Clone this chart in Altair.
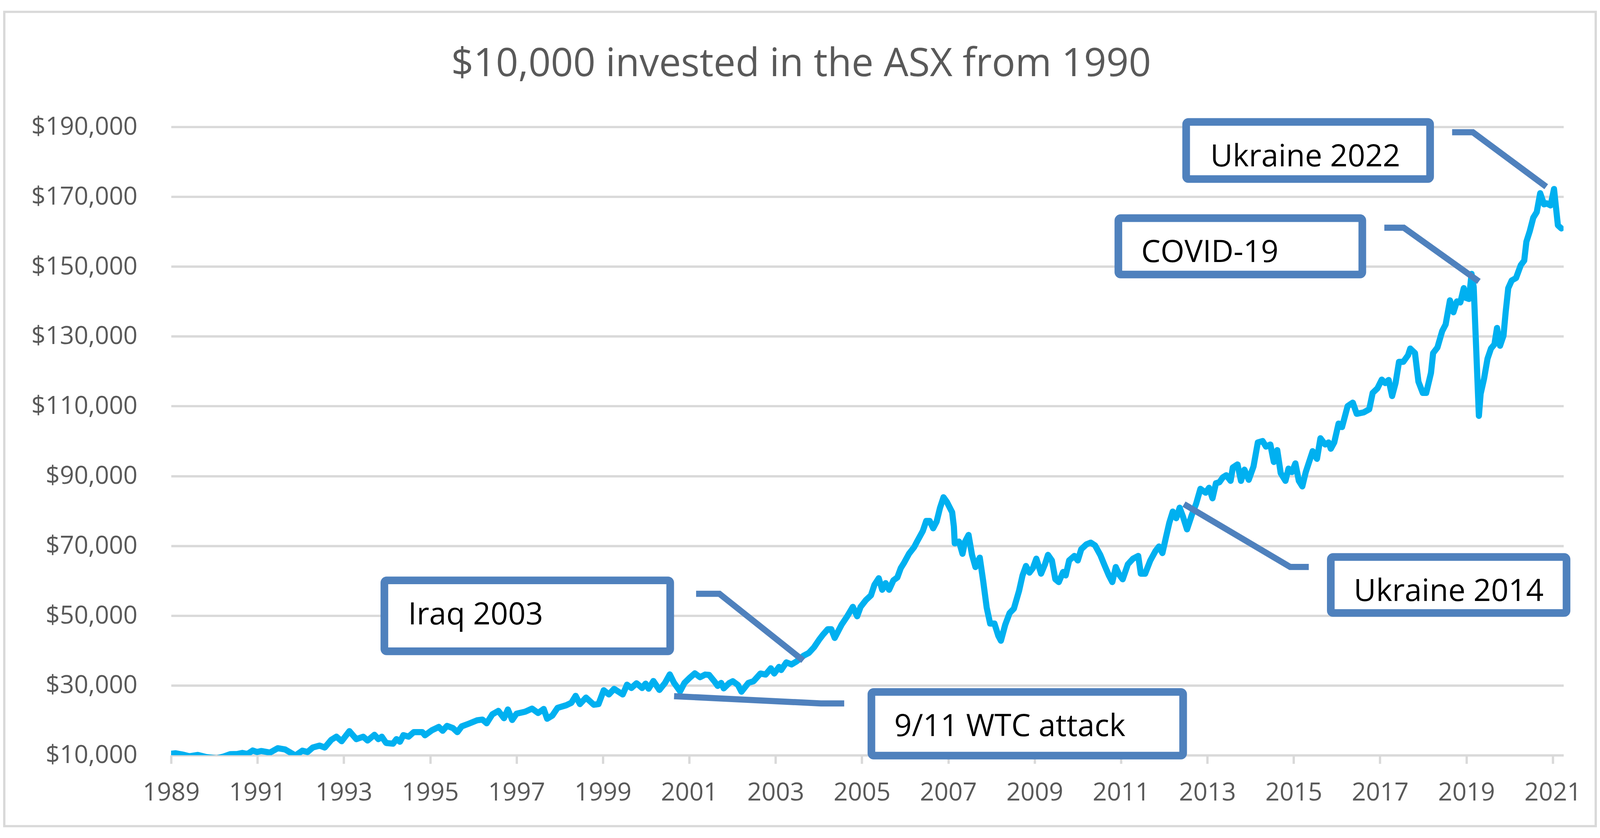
import altair as alt
import pandas as pd

TITLE = "$10,000 invested in the ASX from 1990"

LINE_BLUE = "#00B0F0"
CALLOUT = "#4F81BD"
GRID = "#D9D9D9"
LABEL_GREY = "#595959"
FONT = "Open Sans"

# value of the $10,000 portfolio (decimal year, dollars)
YEARS = [
    1989.00, 1989.10, 1989.26, 1989.42, 1989.62, 1989.82, 1990.06, 1990.21, 1990.37, 1990.53,
    1990.65, 1990.77, 1990.89, 1990.99, 1991.09, 1991.29, 1991.47, 1991.64, 1991.88, 1992.04,
    1992.16, 1992.28, 1992.44, 1992.56, 1992.71, 1992.83, 1992.95, 1993.13, 1993.29, 1993.45,
    1993.55, 1993.71, 1993.80, 1993.88, 1993.98, 1994.14, 1994.22, 1994.30, 1994.38, 1994.50,
    1994.62, 1994.82, 1994.88, 1995.04, 1995.20, 1995.29, 1995.39, 1995.53, 1995.63, 1995.73,
    1995.89, 1996.09, 1996.21, 1996.31, 1996.44, 1996.58, 1996.71, 1996.80, 1996.90, 1997.00,
    1997.20, 1997.36, 1997.50, 1997.63, 1997.71, 1997.83, 1997.95, 1998.15, 1998.27, 1998.37,
    1998.47, 1998.61, 1998.79, 1998.90, 1999.02, 1999.14, 1999.26, 1999.46, 1999.56, 1999.66,
    1999.78, 1999.91, 1999.99, 2000.06, 2000.17, 2000.31, 2000.44, 2000.55, 2000.65, 2000.79,
    2000.89, 2001.01, 2001.13, 2001.25, 2001.37,
    2001.46, 2001.58, 2001.66, 2001.74, 2001.80, 2001.93, 2002.01, 2002.13, 2002.21, 2002.37,
    2002.49, 2002.65, 2002.77, 2002.89, 2002.97, 2003.08, 2003.13, 2003.25, 2003.37, 2003.49,
    2003.65, 2003.77, 2003.89, 2004.01, 2004.09, 2004.21, 2004.29, 2004.37, 2004.45, 2004.53,
    2004.65, 2004.79, 2004.89, 2004.97, 2005.09, 2005.21, 2005.29, 2005.39, 2005.47, 2005.55,
    2005.63, 2005.73, 2005.82, 2005.90, 2005.98, 2006.09, 2006.21, 2006.29, 2006.41, 2006.49,
    2006.57, 2006.65, 2006.73, 2006.81, 2006.89, 2006.97, 2007.09, 2007.13, 2007.15, 2007.25,
    2007.33, 2007.39, 2007.47, 2007.55, 2007.63, 2007.73, 2007.81, 2007.89, 2007.97, 2008.07,
    2008.16, 2008.22, 2008.32, 2008.42, 2008.52, 2008.64, 2008.72, 2008.80, 2008.88, 2008.96,
    2009.04, 2009.15, 2009.24, 2009.31, 2009.40, 2009.48, 2009.56, 2009.66, 2009.72, 2009.80,
    2009.92, 2010.00, 2010.08, 2010.20, 2010.30, 2010.40, 2010.52, 2010.62, 2010.72, 2010.80,
    2010.88, 2010.96, 2011.04, 2011.16, 2011.28, 2011.40, 2011.46, 2011.56, 2011.68, 2011.80,
    2011.88, 2011.96, 2012.04, 2012.12, 2012.20, 2012.28, 2012.36, 2012.44, 2012.53, 2012.64,
    2012.74, 2012.84, 2012.96, 2013.04, 2013.12, 2013.20, 2013.28, 2013.36,
    2013.44, 2013.54, 2013.59, 2013.70, 2013.78, 2013.86, 2013.96, 2014.07, 2014.17, 2014.28,
    2014.36, 2014.46, 2014.54, 2014.62, 2014.70, 2014.81, 2014.88, 2014.96, 2015.04, 2015.12,
    2015.20, 2015.28, 2015.44, 2015.54, 2015.62, 2015.73, 2015.81, 2015.86, 2015.94, 2016.04,
    2016.12, 2016.25, 2016.37, 2016.46, 2016.62, 2016.75, 2016.83, 2016.94, 2017.04, 2017.12,
    2017.20, 2017.28, 2017.36, 2017.44, 2017.54, 2017.65, 2017.70, 2017.81, 2017.89, 2017.99,
    2018.07, 2018.18, 2018.23, 2018.33, 2018.44, 2018.52, 2018.62, 2018.70, 2018.78, 2018.86,
    2018.94, 2018.99, 2019.06, 2019.12, 2019.17, 2019.29, 2019.33, 2019.41, 2019.49, 2019.57,
    2019.65, 2019.71, 2019.78, 2019.86, 2019.91, 2019.97, 2020.05, 2020.15, 2020.26, 2020.34,
    2020.39, 2020.47, 2020.55, 2020.63, 2020.71, 2020.80, 2020.86, 2020.95, 2021.03, 2021.12,
    2021.20,
]
VALUES = [
    10400, 10550, 10200, 9700, 10070, 9450, 9100, 9600, 10300, 10350,
    10650, 10350, 11350, 10900, 11200, 10750, 12000, 11650, 9900, 11300,
    10900, 12200, 12750, 12200, 14400, 15300, 14000, 16900, 14600, 15300,
    14200, 15850, 14600, 15300, 13500, 13300, 14600, 13850, 15750, 15300,
    16600, 16600, 15700, 17150, 18100, 17000, 18400, 17750, 16600, 18250,
    19000, 20000, 20200, 19150, 21700, 22700, 20600, 23100, 20100, 21900,
    22450, 23350, 22100, 23250, 20450, 21350, 23550, 24300, 25000, 27000,
    24650, 26500, 24450, 24650, 28600, 27400, 29000, 27400, 30200, 29250,
    30600, 29250, 30500, 29050, 31250, 28700, 30700, 33150, 30700, 28300,
    30700, 32150, 33450, 32350, 33100,
    33000, 31200, 29850, 30700, 29150, 30700, 31200, 30100, 28200, 30700,
    31200, 33400, 33100, 34900, 33400, 35300, 34400, 36600, 36000, 36900,
    38500, 39300, 40900, 43100, 44400, 46100, 46100, 43600, 45500, 47400,
    49600, 52500, 49800, 52500, 54400, 55800, 58800, 60700, 57400, 59300,
    57400, 60100, 60900, 63600, 65200, 67700, 69600, 71500, 74200, 77100,
    77100, 75000, 76900, 80900, 83900, 82500, 79600, 75500, 70700, 71200,
    67700, 71200, 73100, 67400, 63900, 66600, 59800, 52300, 47700, 47700,
    44200, 42800, 47400, 50700, 52000, 57100, 61500, 64200, 62300, 63600,
    66300, 62000, 64700, 67400, 65800, 60400, 59600, 62500, 61500, 65800,
    67100, 65800, 69000, 70400, 70900, 70100, 67400, 64400, 61500, 59600,
    63900, 61700, 60400, 64700, 66300, 67100, 62000, 62000, 65800, 68500,
    69800, 67900, 72300, 76600, 79800, 77900, 80900, 78200, 74700, 78800,
    82000, 86300, 85200, 86600, 83600, 87900, 88200, 89600,
    90200, 88600, 92400, 93300, 88600, 91800, 88900, 92700, 99600, 100000,
    98400, 99000, 94000, 97400, 90800, 88600, 92100, 91100, 93600, 88600,
    87000, 91100, 97100, 94900, 100800, 99000, 99600, 97800, 99600, 105000,
    104000, 110000, 111000, 107800, 108200, 109100, 113800, 115100, 117600, 116600,
    117500, 112900, 116600, 122700, 122700, 124600, 126500, 125200, 117000, 113800,
    113800, 119500, 125200, 126800, 131500, 133400, 140300, 136900, 140000, 139700,
    143800, 141000, 140700, 147900, 144100, 107200, 113500, 117900, 123600, 126500,
    127700, 132400, 127300, 130200, 136900, 143800, 146000, 146700, 150400, 151700,
    157100, 160200, 164000, 165600, 171000, 167800, 168100, 167500, 172200, 161800,
    160900,
]

TICK_YEARS = list(range(1989, 2022, 2))
Y_TICKS = list(range(10000, 190001, 20000))

# callouts: label, its box, where the text sits, and the leader line to the curve
LABELS = ["Iraq 2003", "9/11 WTC attack", "Ukraine 2014", "COVID-19", "Ukraine 2022"]
BOX_X1 = [1993.94, 2005.22, 2015.86, 2010.94, 2012.51]
BOX_X2 = [2000.56, 2012.44, 2021.32, 2016.59, 2018.16]
BOX_Y1 = [60080, 28120, 66780, 163860, 191420]
BOX_Y2 = [39760, 9890, 50740, 147710, 175060]
TEXT_X = [1994.49, 2005.75, 2016.39, 2011.47, 2013.07]
TEXT_Y = [47450, 15490, 54150, 151340, 178680]
LEADER_X = [
    [2001.16, 2001.70, 2003.64],
    [2004.59, 2004.05, 2000.65],
    [2015.35, 2014.92, 2012.46],
    [2017.10, 2017.55, 2019.29],
    [2018.67, 2019.15, 2020.85],
]
LEADER_Y = [
    [56230, 56230, 37130],
    [24830, 24830, 26910],
    [63920, 63920, 81930],
    [161110, 161110, 145740],
    [188460, 188460, 172860],
]

W, H = 3631, 1639

series = pd.DataFrame({"year": YEARS, "value": VALUES})
boxes = pd.DataFrame({
    "label": LABELS, "x1": BOX_X1, "x2": BOX_X2, "y1": BOX_Y1, "y2": BOX_Y2,
    "tx": TEXT_X, "ty": TEXT_Y,
})
leaders = pd.DataFrame([
    {"label": lab, "step": i, "x": x, "y": y}
    for lab, xs, ys in zip(LABELS, LEADER_X, LEADER_Y)
    for i, (x, y) in enumerate(zip(xs, ys))
])

X_SCALE = alt.Scale(domain=[1989, 2021.25], nice=False, zero=False)
Y_SCALE = alt.Scale(domain=[10000, 190000], nice=False, zero=False)

# same axis objects on every layer so the merged axes keep them
X_AXIS = alt.Axis(values=TICK_YEARS, format="d", grid=False, domain=False,
                  ticks=True, tickSize=22, tickWidth=6, tickColor=GRID,
                  labelPadding=45, labelFontSize=65, labelColor=LABEL_GREY,
                  labelFont=FONT, labelFlush=False, labelOverlap=False, labelLimit=500)
Y_AXIS = alt.Axis(values=Y_TICKS, format="$,.0f", grid=True, gridColor=GRID,
                  gridWidth=6, domain=False, ticks=False, tickSize=0,
                  labelPadding=88, labelFontSize=65, labelColor=LABEL_GREY,
                  labelFont=FONT, labelFlush=False, labelOverlap=False, labelLimit=500)


def xq(field):
    return alt.X(field, type="quantitative", scale=X_SCALE, axis=X_AXIS, title=None)


def yq(field):
    return alt.Y(field, type="quantitative", scale=Y_SCALE, axis=Y_AXIS, title=None)


line = (
    alt.Chart(series)
    .mark_line(color=LINE_BLUE, strokeWidth=16, strokeJoin="round", strokeCap="round", clip=True)
    .encode(x=xq("year"), y=yq("value"))
)

leader_lines = (
    alt.Chart(leaders)
    .mark_line(color=CALLOUT, strokeWidth=16, strokeCap="butt", strokeJoin="miter")
    .encode(x=xq("x"), y=yq("y"), detail="label:N", order="step:Q")
)

box_rects = (
    alt.Chart(boxes)
    .mark_rect(fill="white", stroke=CALLOUT, strokeWidth=20, cornerRadius=6)
    .encode(x=xq("x1"), x2="x2:Q", y=yq("y1"), y2="y2:Q")
)

box_text = (
    alt.Chart(boxes)
    .mark_text(align="left", baseline="alphabetic", font=FONT, fontSize=80, color="black")
    .encode(x=xq("tx"), y=yq("ty"), text="label:N")
)

title = (
    alt.Chart(pd.DataFrame({"t": [TITLE]}))
    .mark_text(align="center", baseline="alphabetic", font=FONT, fontSize=102, color=LABEL_GREY)
    .encode(x=alt.value(1643), y=alt.value(-132), text="t:N")
)

frame = (
    alt.Chart(pd.DataFrame({"a": [0]}))
    .mark_rect(fillOpacity=0, stroke=GRID, strokeWidth=6)
    .encode(x=alt.value(-435), x2=alt.value(3715), y=alt.value(-300), y2=alt.value(1824))
)

chart = (
    alt.layer(frame, line, leader_lines, box_rects, box_text, title)
    .properties(
        width=W, height=H,
        autosize=alt.AutoSizeParams(type="none"),
        padding={"left": 438, "top": 303, "right": 87, "bottom": 188},
        background="white",
    )
    .configure_view(strokeWidth=0)
)

chart.save("out.html", embed_options={"renderer": "svg", "actions": False})
